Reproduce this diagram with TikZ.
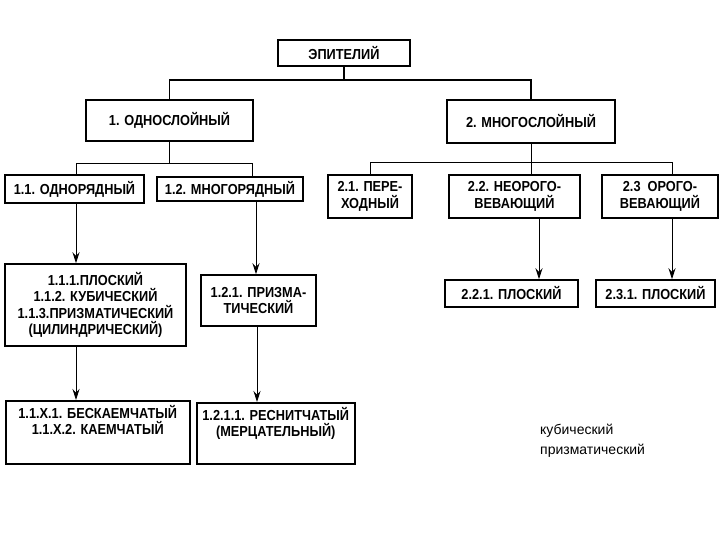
\documentclass[tikz,border=0pt]{standalone}
\usepackage{fontspec}
\setmainfont{Liberation Sans}
\newfontfamily\narrowsf[FakeStretch=0.88]{Liberation Sans}
\usetikzlibrary{arrows.meta}
\begin{document}
\begin{tikzpicture}[x=1pt,y=-1pt,
 box/.style={draw,line width=1.5pt,inner sep=0pt,align=center,font=\narrowsf\fontsize{14.5}{16.5}\selectfont\bfseries},
 lbl/.style={inner sep=0pt,align=center,font=\narrowsf\fontsize{14.5}{16.5}\selectfont\bfseries},
 ln/.style={line width=0.9pt},
 ar/.style={ln,-{Stealth[length=11pt,width=7pt]}}]
\useasboundingbox (0,0) rectangle (720,540);
\def\bx#1#2#3#4#5#6{\node[box,minimum width=#4-#2,minimum height=#5-#3] (#1) at ({(#2+#4)/2},{(#3+#5)/2}) {#6};}
\bx{ep}{278}{40}{410}{66}{ЭПИТЕЛИЙ}
\bx{a}{86}{100}{253}{141}{1. ОДНОСЛОЙНЫЙ}
\bx{b}{447}{100}{615}{143}{2. МНОГОСЛОЙНЫЙ}
\bx{a1}{5}{175}{144}{203}{1.1. ОДНОРЯДНЫЙ}
\bx{a2}{157}{177}{303}{201}{1.2. МНОГОРЯДНЫЙ}
\bx{b1}{328}{175}{412}{218}{2.1. ПЕРЕ-\\ХОДНЫЙ}
\bx{b2}{449}{175}{580}{218}{2.2. НЕОРОГО-\\ВЕВАЮЩИЙ}
\bx{b3}{602}{175}{718}{218}{2.3 \ ОРОГО-\\ВЕВАЮЩИЙ}
\bx{a11}{5}{264}{186}{346}{1.1.1.ПЛОСКИЙ\\1.1.2. КУБИЧЕСКИЙ\\1.1.3.ПРИЗМАТИЧЕСКИЙ\\(ЦИЛИНДРИЧЕСКИЙ)}
\bx{a21}{201}{275}{316}{326}{1.2.1. ПРИЗМА-\\ТИЧЕСКИЙ}
\bx{b21}{445}{280}{578}{307}{2.2.1. ПЛОСКИЙ}
\bx{b31}{596}{280}{715}{307}{2.3.1. ПЛОСКИЙ}
\node[box,minimum width=184,minimum height=63,anchor=north west] (a111) at (5,400) {};
\node[lbl,anchor=north] (a111t) at ([yshift=-5]a111.north) {1.1.X.1. БЕСКАЕМЧАТЫЙ\\1.1.X.2. КАЕМЧАТЫЙ};
\node[box,minimum width=158,minimum height=61,anchor=north west] (a211) at (196,402) {};
\node[lbl,anchor=north] (a211t) at ([yshift=-5]a211.north) {1.2.1.1. РЕСНИТЧАТЫЙ\\(МЕРЦАТЕЛЬНЫЙ)};
\node[align=left,anchor=north west,font=\fontsize{14}{20}\selectfont,inner sep=0pt] (t) at (540,424) {кубический\\призматический};
\draw[line width=1.6pt] (ep.south) -- ++(0,13) coordinate (e1);
\draw[line width=1.6pt] (a.north) |- (e1) -| (b.north);
\draw[ln] (a.south) -- ++(0,22) coordinate (m1);
\draw[ln] (a1.north -| 76,0) |- (m1) -| (a2.north -| 252,0);
\draw[ln] (b.south) -- ++(0,19) coordinate (m2);
\draw[ln] (b1.north) |- (m2) -| (b3.north -| 672,0);
\draw[ln] (m2) -- (m2 |- b2.north);
\draw[ar] (a1.south -| 76,0) -- (a11.north -| 76,0);
\draw[ar] (a2.south -| 256,0) -- (a21.north -| 256,0);
\draw[ar] (a11.south -| 76,0) -- (a111.north -| 76,0);
\draw[ar] (a21.south -| 257,0) -- (a211.north -| 257,0);
\draw[ar] (b2.south -| 539,0) -- (b21.north -| 539,0);
\draw[ar] (b3.south -| 672,0) -- (b31.north -| 672,0);
\end{tikzpicture}
\end{document}
